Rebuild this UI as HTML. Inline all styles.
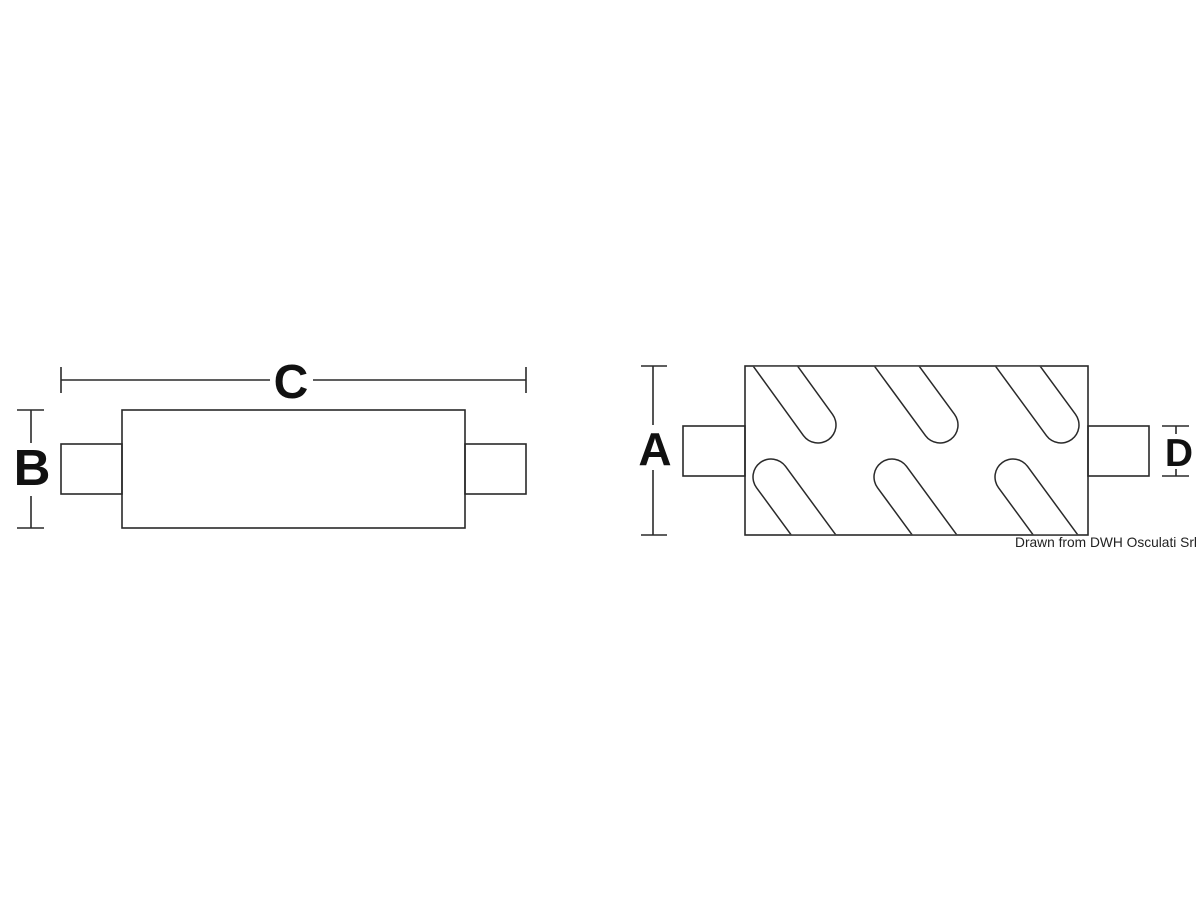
<!DOCTYPE html>
<html><head><meta charset="utf-8"><style>
html,body{margin:0;padding:0;background:#fff;}
svg{display:block;}
</style></head><body>
<svg width="1200" height="900" viewBox="0 0 1200 900" xmlns="http://www.w3.org/2000/svg">
<defs>
<clipPath id="rc"><rect x="745.8" y="366.8" width="341.4" height="167.4"/></clipPath>
</defs>
<g fill="none" stroke="#2a2a2a" stroke-width="1.6">
<!-- Left figure -->
<line x1="61" y1="380" x2="270" y2="380"/>
<line x1="313" y1="380" x2="526" y2="380"/>
<line x1="61" y1="367" x2="61" y2="393"/>
<line x1="526" y1="367" x2="526" y2="393"/>
<rect x="122" y="410" width="343" height="118"/>
<rect x="61" y="444" width="61" height="50"/>
<rect x="465" y="444" width="61" height="50"/>
<line x1="17" y1="410" x2="44" y2="410"/>
<line x1="17" y1="528" x2="44" y2="528"/>
<line x1="31" y1="410" x2="31" y2="443"/>
<line x1="31" y1="496" x2="31" y2="528"/>
<!-- Right figure -->
<line x1="641" y1="366" x2="667" y2="366"/>
<line x1="641" y1="535" x2="667" y2="535"/>
<line x1="653" y1="366" x2="653" y2="425"/>
<line x1="653" y1="470" x2="653" y2="535"/>
<rect x="745" y="366" width="343" height="169"/>
<rect x="683" y="426" width="62" height="50"/>
<rect x="1088" y="426" width="61" height="50"/>
<line x1="1162" y1="426" x2="1189" y2="426"/>
<line x1="1162" y1="476" x2="1189" y2="476"/>
<line x1="1176" y1="426" x2="1176" y2="434"/>
<line x1="1176" y1="469" x2="1176" y2="476"/>
</g>
<g clip-path="url(#rc)" stroke-linecap="round" fill="none">
<g stroke="#2a2a2a" stroke-width="37.5">
<line x1="750" y1="331" x2="818" y2="425"/>
<line x1="871" y1="331" x2="940" y2="425"/>
<line x1="992" y1="331" x2="1061" y2="425"/>
<line x1="771" y1="477" x2="840" y2="571"/>
<line x1="892" y1="477" x2="961" y2="571"/>
<line x1="1013" y1="477" x2="1082" y2="571"/>
</g>
<g stroke="#fff" stroke-width="34.5">
<line x1="750" y1="331" x2="818" y2="425"/>
<line x1="871" y1="331" x2="940" y2="425"/>
<line x1="992" y1="331" x2="1061" y2="425"/>
<line x1="771" y1="477" x2="840" y2="571"/>
<line x1="892" y1="477" x2="961" y2="571"/>
<line x1="1013" y1="477" x2="1082" y2="571"/>
</g>
</g>
<g font-family="Liberation Sans, sans-serif" font-weight="bold" fill="#111" text-anchor="middle">
<text x="291" y="398" font-size="48">C</text>
<text x="32" y="485" font-size="51">B</text>
<text x="655" y="465" font-size="46">A</text>
<text x="1179" y="466" font-size="39">D</text>
</g>
<text x="1015" y="547" font-family="Liberation Sans, sans-serif" font-size="14" fill="#222" textLength="182" lengthAdjust="spacingAndGlyphs">Drawn from DWH Osculati Srl</text>
</svg>
</body></html>
